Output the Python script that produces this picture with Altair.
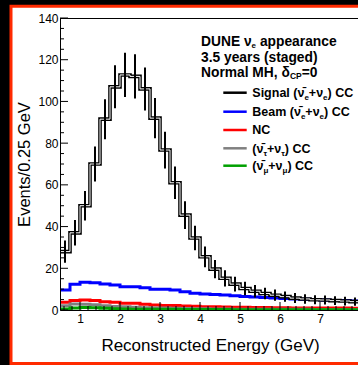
import altair as alt
import pandas as pd

FONT = "Liberation Sans"

# ---------------- data ----------------
BIN_LOW = [0.5, 0.75, 1.0, 1.25, 1.5, 1.75, 2.0, 2.25, 2.5, 2.75,
           3.0, 3.25, 3.5, 3.75, 4.0, 4.25, 4.5, 4.75, 5.0, 5.25,
           5.5, 5.75, 6.0, 6.25, 6.5, 6.75, 7.0, 7.25, 7.5, 7.75]
BIN_WIDTH = 0.25
SIGNAL = [28, 37, 50, 70, 91.5, 107, 112.7, 112, 106, 92,
          76.7, 61, 45.5, 34.5, 25.5, 19.6, 15.2, 12.4, 10.3, 9.0,
          7.9, 7.1, 6.4, 5.7, 5.3, 4.9, 4.8, 4.5, 4.3, 4.0]
SIGNAL_ERR = [5.3, 6.1, 7.1, 8.4, 9.6, 10.3, 10.6, 10.6, 10.3, 9.6,
              8.8, 7.8, 6.7, 5.9, 5.0, 4.4, 3.9, 3.5, 3.2, 3.0,
              2.8, 2.7, 2.5, 2.4, 2.3, 2.2, 2.2, 2.1, 2.1, 2.0]
BEAM = [9.6, 12.3, 13.3, 13.1, 12.5, 12.0, 11.2, 11.2, 10.7, 9.9,
        9.9, 9.6, 8.8, 8.0, 7.7, 7.4, 7.2, 6.8, 6.5, 6.2,
        6.0, 5.7, 5.5, 5.3, 5.1, 5.0, 4.8, 4.6, 4.5, 4.3]
NC = [3.7, 4.5, 4.8, 4.5, 4.0, 3.7, 3.2, 3.2, 2.7, 2.4,
      2.1, 2.1, 1.9, 1.8, 1.6, 1.5, 1.4, 1.3, 1.3, 1.2,
      1.2, 1.1, 1.1, 1.0, 1.0, 1.0, 0.9, 0.9, 0.9, 0.8]
TAU = [2.0, 2.9, 2.8, 2.5, 2.0, 1.7, 1.5, 1.3, 1.1, 1.0,
       0.9, 0.8, 0.7, 0.6, 0.6, 0.5, 0.5, 0.4, 0.4, 0.4,
       0.3, 0.3, 0.3, 0.3, 0.3, 0.2, 0.2, 0.2, 0.2, 0.2]
MU = [0.5, 1.0, 1.2, 1.1, 0.8, 0.6, 0.5, 0.4, 0.4, 0.3,
      0.3, 0.3, 0.2, 0.2, 0.2, 0.2, 0.2, 0.1, 0.1, 0.1,
      0.1, 0.1, 0.1, 0.1, 0.1, 0.1, 0.1, 0.1, 0.1, 0.1]

X_MAJOR = [1, 2, 3, 4, 5, 6, 7]
X_MINOR = [0.6, 0.8, 1.2, 1.4, 1.6, 1.8, 2.2, 2.4, 2.6, 2.8, 3.2, 3.4, 3.6, 3.8,
           4.2, 4.4, 4.6, 4.8, 5.2, 5.4, 5.6, 5.8, 6.2, 6.4, 6.6, 6.8, 7.2, 7.4,
           7.6, 7.8]
Y_MAJOR = [0, 20, 40, 60, 80, 100, 120, 140]
Y_MINOR = [5, 10, 15, 25, 30, 35, 45, 50, 55, 65, 70, 75, 85, 90, 95, 105, 110,
           115, 125, 130, 135]

X_DOMAIN = [0.5, 7.95]
Y_DOMAIN = [0, 140]
W, H = 298, 292

# ---------------- scales / axes ----------------
XS = alt.Scale(domain=X_DOMAIN, nice=False, zero=False)
YS = alt.Scale(domain=Y_DOMAIN, nice=False, zero=False)
XAX = alt.Axis(values=X_MAJOR, ticks=False, tickSize=0, grid=False, domain=True,
               domainColor="black", domainWidth=1, labelFont=FONT, labelFontSize=12,
               labelColor="black", labelPadding=3, labelFlush=False,
               title="Reconstructed Energy (GeV)", titleFont=FONT, titleFontSize=17,
               titleFontWeight="normal", titleColor="black", titleX=150, titleY=35,
               titleBaseline="middle", titleAlign="center", zindex=1)
YAX = alt.Axis(values=Y_MAJOR, ticks=False, tickSize=0, grid=False, domain=True,
               domainColor="black", domainWidth=1, labelFont=FONT, labelFontSize=12,
               labelColor="black", labelPadding=2, labelFlush=False, labelOverlap=False,
               title="Events/0.25 GeV", titleFont=FONT, titleFontSize=16.5,
               titleFontWeight="normal", titleColor="black", titleX=-36, titleY=146,
               titleAngle=270, titleBaseline="middle", titleAlign="center", zindex=1)


def X(f):
    return alt.X(f, type="quantitative", scale=XS, axis=XAX)


def Y(f):
    return alt.Y(f, type="quantitative", scale=YS, axis=YAX)


def step_df(vals):
    xs = list(BIN_LOW) + [BIN_LOW[-1] + BIN_WIDTH]
    ys = list(vals) + [vals[-1]]
    return pd.DataFrame({"x": xs, "y": ys})


def step_line(vals, color, width):
    return alt.Chart(step_df(vals)).mark_line(
        interpolate="step-after", color=color, strokeWidth=width, clip=True,
        strokeJoin="miter", strokeCap="butt"
    ).encode(x=X("x"), y=Y("y"))


one = pd.DataFrame({"k": [0]})

# white panel with red frame on black background
panel = alt.Chart(one).mark_rect(fill="white", stroke="#ff2a00", strokeWidth=3).encode(
    x=alt.value(-49), x2=alt.value(320), y=alt.value(-11.8), y2=alt.value(345.5))

top_line = alt.Chart(one).mark_rule(color="black", strokeWidth=1).encode(
    x=alt.value(0), x2=alt.value(W), y=alt.value(0.5))

# inside ticks
ymaj = alt.Chart(pd.DataFrame({"v": Y_MAJOR})).mark_rule(color="black", strokeWidth=1).encode(
    y=Y("v"), x=alt.value(0), x2=alt.value(8))
ymin = alt.Chart(pd.DataFrame({"v": Y_MINOR})).mark_rule(color="black", strokeWidth=1).encode(
    y=Y("v"), x=alt.value(0), x2=alt.value(4))
xmaj = alt.Chart(pd.DataFrame({"v": X_MAJOR})).mark_rule(color="black", strokeWidth=1).encode(
    x=X("v"), y=alt.value(H), y2=alt.value(H - 8))
xmin = alt.Chart(pd.DataFrame({"v": X_MINOR})).mark_rule(color="black", strokeWidth=1).encode(
    x=X("v"), y=alt.value(H), y2=alt.value(H - 4))

err_df = pd.DataFrame({
    "xc": [b + BIN_WIDTH / 2 for b in BIN_LOW],
    "lo": [v - e for v, e in zip(SIGNAL, SIGNAL_ERR)],
    "hi": [v + e for v, e in zip(SIGNAL, SIGNAL_ERR)],
})
errbars = alt.Chart(err_df).mark_rule(color="black", strokeWidth=2, clip=True).encode(
    x=X("xc"), y=Y("lo"), y2="hi:Q")

# ---------------- text helpers ----------------
AB = {' ': 278, '(': 333, ')': 333, '+': 584, '=': 584, ',': 278, '.': 278, '/': 278,
      'B': 722, 'C': 722, 'D': 722, 'E': 667, 'H': 722, 'M': 833, 'N': 722, 'P': 667,
      'S': 667, 'U': 722, 'a': 556, 'c': 556, 'd': 611, 'e': 556, 'g': 611, 'i': 278,
      'l': 278, 'm': 889, 'n': 611, 'o': 611, 'p': 611, 'r': 389, 's': 556, 't': 333,
      'y': 556, '\u03bd': 556, '\u03c4': 450, '\u03bc': 611, '\u03b4': 611,
      '\u0304': 0}
for _d in "0123456789":
    AB[_d] = 556


def tw(s, size):
    return sum(AB.get(c, 556) for c in s) * size / 1000.0


def text_run(pieces, x0, baseline, size, sub_size, sub_drop):
    layers = []
    x = x0
    for s, sub in pieces:
        fs = sub_size if sub else size
        lead = len(s) - len(s.lstrip(" "))
        x += tw(" " * lead, fs)
        body = s.strip(" ")
        y = baseline + (sub_drop if sub else 0)
        layers.append(
            alt.Chart(pd.DataFrame({"t": [body]})).mark_text(
                align="left", baseline="alphabetic", font=FONT, fontSize=fs,
                fontWeight="bold", color="black"
            ).encode(text="t:N", x=alt.value(x), y=alt.value(y))
        )
        x += tw(body, fs)
    return layers


NUBAR = "\u03bd\u0304"
NU = "\u03bd"

# title block
TS = 13.8
title_layers = []
title_layers += text_run([("DUNE " + NU, False), ("e", True), (" appearance", False)],
                         141, 28.3, TS, 8, 1.8)
title_layers += text_run([("3.5 years (staged)", False)], 141, 44.0, TS, 8, 1.8)
title_layers += text_run([("Normal MH, \u03b4", False), ("CP", True), ("=0", False)],
                         141, 58.8, TS, 8.5, 2.5)

# legend
LEG_NAMES = ["Signal", "Beam", "NC", "tau", "mu"]
LEG_COLORS = ["black", "#0000ff", "#ff0000", "#808080", "#00a000"]
LEG_ROWS = [74.7, 93.7, 112, 130.3, 147.7]
LS = 12.5
leg_texts = [
    [("Signal (" + NUBAR, False), ("e", True), ("+" + NU, False), ("e", True), (") CC", False)],
    [("Beam (" + NUBAR, False), ("e", True), ("+" + NU, False), ("e", True), (") CC", False)],
    [("NC", False)],
    [("(" + NUBAR, False), ("\u03c4", True), ("+" + NU, False), ("\u03c4", True), (") CC", False)],
    [("(" + NUBAR, False), ("\u03bc", True), ("+" + NU, False), ("\u03bc", True), (") CC", False)],
]
legend_layers = []
for name, col, yc, pieces in zip(LEG_NAMES, LEG_COLORS, LEG_ROWS, leg_texts):
    legend_layers.append(
        alt.Chart(one).mark_rule(color=col, strokeWidth=2.5).encode(
            x=alt.value(163.3), x2=alt.value(186.7), y=alt.value(yc)))
    legend_layers += text_run(pieces, 192.3, yc + 4.4, LS, 8, 2.8)

layers = [panel,
          step_line(BEAM, "#0000ff", 3),
          step_line(NC, "#ff0000", 3),
          step_line(TAU, "#808080", 3),
          step_line(MU, "#00a000", 3),
          step_line(SIGNAL, "black", 3.6),
          step_line(SIGNAL, "white", 1.0),
          errbars,
          ymaj, ymin, xmaj, xmin, top_line] + title_layers + legend_layers

chart = alt.layer(*layers).properties(
    width=W, height=H,
    autosize=alt.AutoSizeParams(type="none"),
    padding={"left": 60, "top": 18, "right": 0, "bottom": 55},
    background="black",
).configure_view(stroke=None)

chart.save("out.html", embed_options={"renderer": "svg", "actions": False})
